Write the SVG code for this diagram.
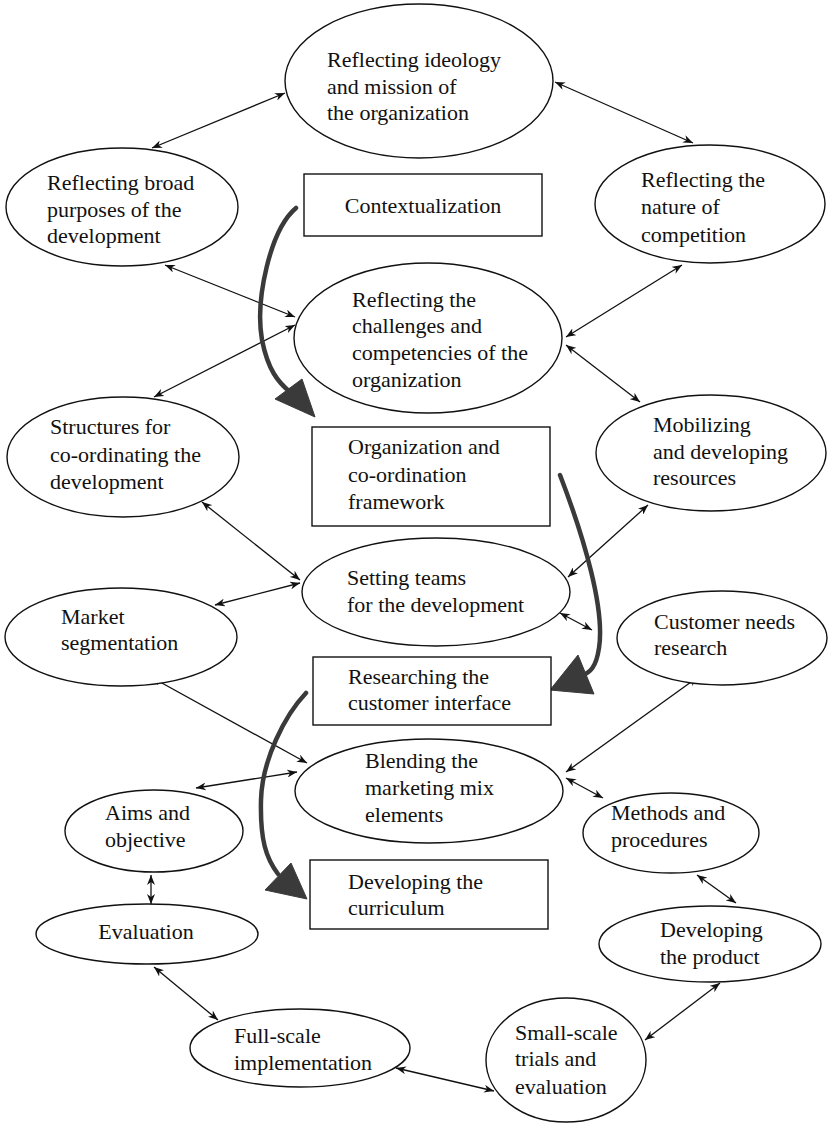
<svg xmlns="http://www.w3.org/2000/svg" width="829" height="1123" viewBox="0 0 829 1123">
<style>
.n{fill:#fff;stroke:#111;stroke-width:1.4}
.t{font-family:"Liberation Serif","Times New Roman",serif;font-size:22px;fill:#111}
.c{stroke:#111;stroke-width:1.3;fill:none;marker-start:url(#ah);marker-end:url(#ah)}
.big{stroke:#3a3a3a;stroke-width:4.5;fill:none;stroke-linecap:round}
.head{fill:#3a3a3a;stroke:#3a3a3a;stroke-width:1}
</style>
<defs>
<marker id="ah" viewBox="0 0 10 8" refX="10" refY="4" markerWidth="10" markerHeight="8" markerUnits="userSpaceOnUse" orient="auto-start-reverse">
<path d="M0,0 L10,4 L0,8 L3,4 z" fill="#111"/>
</marker>
</defs>
<rect width="829" height="1123" fill="#fff"/>

<g id="connectors">
<line class="c" x1="285" y1="93" x2="152" y2="148"/>
<line class="c" x1="555" y1="82" x2="693" y2="143"/>
<line class="c" x1="165" y1="265" x2="295" y2="317"/>
<line class="c" x1="295" y1="325" x2="154" y2="397"/>
<line class="c" x1="682" y1="265" x2="566" y2="337"/>
<line class="c" x1="566" y1="345" x2="640" y2="402"/>
<line class="c" x1="202" y1="502" x2="300" y2="580"/>
<line class="c" x1="300" y1="583" x2="215" y2="605"/>
<line class="c" x1="648" y1="505" x2="568" y2="577"/>
<line class="c" x1="560" y1="613" x2="592" y2="630"/>
<line class="c" x1="151" y1="677" x2="307" y2="763"/>
<line class="c" x1="698" y1="677" x2="566" y2="772"/>
<line class="c" x1="297" y1="772" x2="196" y2="788"/>
<line class="c" x1="566" y1="778" x2="603" y2="798"/>
<line class="c" x1="151" y1="875" x2="151" y2="904"/>
<line class="c" x1="697" y1="875" x2="736" y2="903"/>
<line class="c" x1="154" y1="967" x2="218" y2="1020"/>
<line class="c" x1="720" y1="983" x2="645" y2="1040"/>
<line class="c" x1="396" y1="1068" x2="494" y2="1091"/>
<path class="big" d="M296,208 C270,230 255,300 262,340 C268,370 278,382 290,392"/>
<polygon class="head" points="302,379 275,399 315,417"/>
<path class="big" d="M560,475 C585,540 605,610 599,648 C596,668 590,672 582,676"/>
<polygon class="head" points="578,655 594,694 550,690"/>
<path class="big" d="M306,693 C285,715 262,760 261,800 C260,840 266,858 278,874"/>
<polygon class="head" points="291,863 265,890 307,899"/>
</g>

<g id="ideology"><ellipse class="n" cx="419" cy="81" rx="134" ry="77"/>
<text class="t" x="327" y="67">Reflecting ideology</text><text class="t" x="327" y="94">and mission of</text><text class="t" x="327" y="120">the organization</text></g>

<g id="broad"><ellipse class="n" cx="122" cy="207" rx="116" ry="59"/>
<text class="t" x="47" y="190">Reflecting broad</text><text class="t" x="47" y="217">purposes of the</text><text class="t" x="47" y="243">development</text></g>

<g id="competition"><ellipse class="n" cx="710" cy="204" rx="115" ry="59"/>
<text class="t" x="641" y="187">Reflecting the</text><text class="t" x="641" y="214">nature of</text><text class="t" x="641" y="242">competition</text></g>

<g id="contextualization"><rect class="n" x="304" y="174" width="238" height="62"/>
<text class="t" x="423" y="213" text-anchor="middle">Contextualization</text></g>

<g id="challenges"><ellipse class="n" cx="428" cy="338" rx="134" ry="75"/>
<text class="t" x="352" y="307">Reflecting the</text><text class="t" x="352" y="333">challenges and</text><text class="t" x="352" y="360">competencies of the</text><text class="t" x="352" y="387">organization</text></g>

<g id="structures"><ellipse class="n" cx="123" cy="457" rx="116" ry="60"/>
<text class="t" x="50" y="434">Structures for</text><text class="t" x="50" y="462">co-ordinating the</text><text class="t" x="50" y="489">development</text></g>

<g id="framework"><rect class="n" x="312" y="427" width="238" height="99"/>
<text class="t" x="348" y="454">Organization and</text><text class="t" x="348" y="482">co-ordination</text><text class="t" x="348" y="509">framework</text></g>

<g id="mobilizing"><ellipse class="n" cx="711" cy="453" rx="115" ry="58"/>
<text class="t" x="653" y="432">Mobilizing</text><text class="t" x="653" y="459">and developing</text><text class="t" x="653" y="485">resources</text></g>

<g id="teams"><ellipse class="n" cx="436" cy="592" rx="134" ry="54"/>
<text class="t" x="347" y="585">Setting teams</text><text class="t" x="347" y="612">for the development</text></g>

<g id="market"><ellipse class="n" cx="121" cy="637" rx="116" ry="49"/>
<text class="t" x="61" y="624">Market</text><text class="t" x="61" y="650">segmentation</text></g>

<g id="customer"><ellipse class="n" cx="722" cy="638" rx="105" ry="47"/>
<text class="t" x="654" y="629">Customer needs</text><text class="t" x="654" y="655">research</text></g>

<g id="interface"><rect class="n" x="313" y="657" width="238" height="68"/>
<text class="t" x="348" y="684">Researching the</text><text class="t" x="348" y="710">customer interface</text></g>

<g id="blending"><ellipse class="n" cx="429" cy="791" rx="134" ry="52"/>
<text class="t" x="365" y="768">Blending the</text><text class="t" x="365" y="795">marketing mix</text><text class="t" x="365" y="822">elements</text></g>

<g id="aims"><ellipse class="n" cx="154" cy="831" rx="89" ry="41"/>
<text class="t" x="105" y="820">Aims and</text><text class="t" x="105" y="847">objective</text></g>

<g id="methods"><ellipse class="n" cx="671" cy="833" rx="88" ry="40"/>
<text class="t" x="611" y="820">Methods and</text><text class="t" x="611" y="847">procedures</text></g>

<g id="curriculum"><rect class="n" x="310" y="860" width="238" height="69"/>
<text class="t" x="348" y="889">Developing the</text><text class="t" x="348" y="915">curriculum</text></g>

<g id="evaluation"><ellipse class="n" cx="147" cy="934" rx="111" ry="30"/>
<text class="t" x="146" y="939" text-anchor="middle">Evaluation</text></g>

<g id="product"><ellipse class="n" cx="710" cy="944" rx="111" ry="38"/>
<text class="t" x="660" y="937">Developing</text><text class="t" x="660" y="964">the product</text></g>

<g id="fullscale"><ellipse class="n" cx="300" cy="1048" rx="110" ry="39"/>
<text class="t" x="234" y="1043">Full-scale</text><text class="t" x="234" y="1070">implementation</text></g>

<g id="smallscale"><ellipse class="n" cx="566" cy="1060" rx="80" ry="62"/>
<text class="t" x="515" y="1040">Small-scale</text><text class="t" x="515" y="1066">trials and</text><text class="t" x="515" y="1094">evaluation</text></g>
</svg>
